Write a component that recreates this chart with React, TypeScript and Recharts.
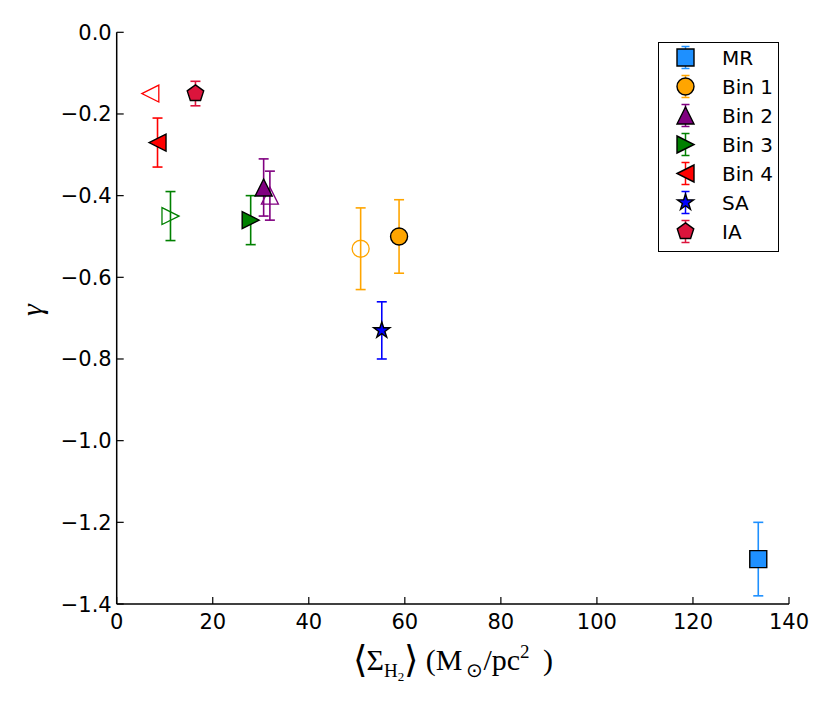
import React from 'react';
import { ScatterChart, Scatter, XAxis, YAxis, ErrorBar, Legend } from 'recharts';

// ---------- data ----------
const xTicks = [0, 20, 40, 60, 80, 100, 120, 140];
const yTicks = [-1.4, -1.2, -1.0, -0.8, -0.6, -0.4, -0.2, 0.0];

const mrData = [{ x: 133.6, y: -1.29, e: [0.09, 0.09] }];
const bin1Data = [{ x: 58.8, y: -0.5, e: [0.09, 0.09] }];
const bin1OpenData = [{ x: 50.8, y: -0.53, e: [0.1, 0.1] }];
const bin2Data = [{ x: 30.6, y: -0.38, e: [0.07, 0.07] }];
const bin2OpenData = [{ x: 31.9, y: -0.4, e: [0.06, 0.06] }];
const bin3Data = [{ x: 27.9, y: -0.46, e: [0.06, 0.06] }];
const bin3OpenData = [{ x: 11.2, y: -0.45, e: [0.06, 0.06] }];
const bin4Data = [{ x: 8.5, y: -0.27, e: [0.06, 0.06] }];
const bin4OpenData = [{ x: 7.0, y: -0.15 }];
const saData = [{ x: 55.2, y: -0.73, e: [0.07, 0.07] }];
const iaData = [{ x: 16.4, y: -0.15, e: [0.03, 0.03] }];

const legendNames = ['MR', 'Bin 1', 'Bin 2', 'Bin 3', 'Bin 4', 'SA', 'IA'];
const legendColors = ['#1E90FF', '#FFA500', '#800080', '#008000', '#FF0000', '#0000FF', '#DC143C'];
const legendKinds = ['square', 'circle', 'tup', 'tright', 'tleft', 'star', 'pentagon'];

// ---------- styling ----------
const FONT = 'DejaVu Sans';
const MATH = 'Liberation Serif';
const W = 814;
const H = 690;
const MS = 8.5; // marker half size
const TICK_FS = 21;

function markerPath(kind: string, cx: number, cy: number, s: number): string {
  const pts: [number, number][] = [];
  if (kind === 'square') {
    pts.push([cx - s, cy - s], [cx + s, cy - s], [cx + s, cy + s], [cx - s, cy + s]);
  } else if (kind === 'tup') {
    pts.push([cx, cy - s], [cx + s, cy + s], [cx - s, cy + s]);
  } else if (kind === 'tright') {
    pts.push([cx + s, cy], [cx - s, cy + s], [cx - s, cy - s]);
  } else if (kind === 'tleft') {
    pts.push([cx - s, cy], [cx + s, cy - s], [cx + s, cy + s]);
  } else if (kind === 'star') {
    const R = s;
    const r = s * 0.381966;
    for (let i = 0; i < 10; i++) {
      const a = (-90 + i * 36) * Math.PI / 180;
      const rr = i % 2 === 0 ? R : r;
      pts.push([cx + rr * Math.cos(a), cy + rr * Math.sin(a)]);
    }
  } else if (kind === 'pentagon') {
    const R = s * 1.02;
    for (let i = 0; i < 5; i++) {
      const a = (-90 + i * 72) * Math.PI / 180;
      pts.push([cx + R * Math.cos(a), cy + R * Math.sin(a)]);
    }
  }
  return 'M' + pts.map((p) => p[0].toFixed(2) + ',' + p[1].toFixed(2)).join('L') + 'Z';
}

function Marker({ kind, cx, cy, color, filled, s }: any) {
  const fill = filled ? color : 'none';
  const stroke = filled ? '#000' : color;
  const sw = filled ? 1.4 : 1.3;
  if (kind === 'circle') {
    return <circle cx={cx} cy={cy} r={s} fill={fill} stroke={stroke} strokeWidth={sw} />;
  }
  return <path d={markerPath(kind, cx, cy, s)} fill={fill} stroke={stroke} strokeWidth={sw} strokeLinejoin="miter" />;
}

const makeShape = (kind: string, color: string, filled: boolean) => (props: any) => (
  <Marker kind={kind} cx={props.cx} cy={props.cy} color={color} filled={filled} s={MS} />
);

const fmt = (v: number) => {
  const s = Math.abs(v) < 1e-9 ? '0.0' : v.toFixed(1);
  return s.replace('-', '\u2212');
};

const BottomTick = (props: any) => {
  const { x, y, payload } = props;
  return (
    <g>
      <line x1={x} y1={y} x2={x} y2={y - 7} stroke="#000" strokeWidth={1.2} />
      <text x={x} y={y + 25} textAnchor="middle" fontSize={TICK_FS} fontFamily={FONT} fill="#000">
        {String(payload.value)}
      </text>
    </g>
  );
};
const TopTick = (props: any) => {
  const { x, y } = props;
  return <line x1={x} y1={y} x2={x} y2={y + 7} stroke="#000" strokeWidth={1.2} />;
};
const LeftTick = (props: any) => {
  const { x, y, payload } = props;
  return (
    <g>
      <line x1={x} y1={y} x2={x + 7} y2={y} stroke="#000" strokeWidth={1.2} />
      <text x={x - 5} y={y + 7.5} textAnchor="end" fontSize={TICK_FS} fontFamily={FONT} fill="#000">
        {fmt(payload.value)}
      </text>
    </g>
  );
};
const RightTick = (props: any) => {
  const { x, y } = props;
  return <line x1={x} y1={y} x2={x - 7} y2={y} stroke="#000" strokeWidth={1.2} />;
};

const XLabel = (props: any) => {
  const vb = props.viewBox || { x: 108.7, y: 596, width: 672.3, height: 60 };
  const cx = vb.x + vb.width / 2;
  const y = vb.y + 66;
  return (
    <text x={cx} y={y} textAnchor="middle" fontFamily={MATH} fontSize={30} fill="#000">
      <tspan fontSize={37} dy={2}>{'\u27E8'}</tspan>
      <tspan dy={-2}>{'\u03A3'}</tspan>
      <tspan fontSize={19} dy={7}>H</tspan>
      <tspan fontSize={13} dy={4}>2</tspan>
      <tspan fontSize={37} dy={-9}>{'\u27E9'}</tspan>
      <tspan dy={-2}>{' (M'}</tspan>
      <tspan fontSize={20} dy={7}>{'\u2009\u2299'}</tspan>
      <tspan dy={-7}>/pc</tspan>
      <tspan fontSize={19} dy={-12}>2</tspan>
      <tspan dy={12}>{' \u2009)'}</tspan>
    </text>
  );
};

const YLabel = (props: any) => {
  const vb = props.viewBox || { x: 0, y: 24.3, width: 108.7, height: 571.7 };
  const cy = vb.y + vb.height / 2 - 8;
  const x = 34;
  return (
    <text x={x} y={cy} transform={`rotate(-90, ${x}, ${cy})`} textAnchor="middle" fontFamily={MATH} fontStyle="italic" fontSize={30} fill="#000">
      {'\u03B3'}
    </text>
  );
};

const LegendBox = () => {
  const rowH = 29;
  return (
    <div style={{ width: 121, height: 210, border: '1.5px solid #000', background: '#fff', boxSizing: 'border-box', position: 'relative' }}>
      <svg width={118} height={207} style={{ position: 'absolute', left: 0, top: 0 }}>
        {legendNames.map((name, i) => {
          const cy = 14.5 + i * rowH;
          const cx = 26.5;
          const c = legendColors[i];
          return (
            <g key={name}>
              <line x1={cx} y1={cy - 11} x2={cx} y2={cy + 11} stroke={c} strokeWidth={1.5} />
              <line x1={cx - 4} y1={cy - 11} x2={cx + 4} y2={cy - 11} stroke={c} strokeWidth={1.5} />
              <line x1={cx - 4} y1={cy + 11} x2={cx + 4} y2={cy + 11} stroke={c} strokeWidth={1.5} />
              <Marker kind={legendKinds[i]} cx={cx} cy={cy} color={c} filled={true} s={MS} />
              <text x={63} y={cy + 7.5} fontSize={20} fontFamily={FONT} fill="#000">{name}</text>
            </g>
          );
        })}
      </svg>
    </div>
  );
};

const ebProps = { direction: 'y' as const, width: 5, strokeWidth: 1.6 };

export default function App() {
  return (
    <div style={{ width: W, height: H, background: '#fff' }}>
      <ScatterChart width={W} height={H} margin={{ top: 24.3, right: 33, bottom: 34, left: 0 }}>
        <XAxis
          xAxisId="b"
          type="number"
          dataKey="x"
          domain={[0, 140]}
          ticks={xTicks}
          interval={0}
          allowDataOverflow
          height={60}
          tickSize={0}
          tickMargin={0}
          tickLine={false}
          axisLine={{ stroke: '#000', strokeWidth: 1.5 }}
          tick={<BottomTick />}
          label={<XLabel />}
        />
        <XAxis
          xAxisId="t"
          orientation="top"
          type="number"
          dataKey="x"
          domain={[0, 140]}
          ticks={xTicks}
          interval={0}
          allowDataOverflow
          height={0}
          tickSize={0}
          tickMargin={0}
          tickLine={false}
          axisLine={{ stroke: '#000', strokeWidth: 1.5 }}
          tick={<TopTick />}
        />
        <YAxis
          yAxisId="l"
          type="number"
          dataKey="y"
          domain={[-1.4, 0]}
          ticks={yTicks}
          interval={0}
          allowDataOverflow
          width={108.7}
          tickSize={0}
          tickMargin={0}
          tickLine={false}
          axisLine={{ stroke: '#000', strokeWidth: 1.5 }}
          tick={<LeftTick />}
          label={<YLabel />}
        />
        <YAxis
          yAxisId="r"
          orientation="right"
          type="number"
          dataKey="y"
          domain={[-1.4, 0]}
          ticks={yTicks}
          interval={0}
          allowDataOverflow
          width={0}
          tickSize={0}
          tickMargin={0}
          tickLine={false}
          axisLine={{ stroke: '#000', strokeWidth: 1.5 }}
          tick={<RightTick />}
        />
        <Legend
          layout="vertical"
          align="center"
          verticalAlign="middle"
          wrapperStyle={{ position: 'absolute', left: 650, top: 34, width: 121, height: 210 }}
          content={() => <LegendBox />}
        />

        <Scatter name="Bin 1 open" xAxisId="b" yAxisId="l" data={bin1OpenData} legendType="none" isAnimationActive={false} shape={makeShape('circle', '#FFA500', false)}>
          <ErrorBar dataKey="e" stroke="#FFA500" {...ebProps} />
        </Scatter>
        <Scatter name="Bin 2 open" xAxisId="b" yAxisId="l" data={bin2OpenData} legendType="none" isAnimationActive={false} shape={makeShape('tup', '#800080', false)}>
          <ErrorBar dataKey="e" stroke="#800080" {...ebProps} />
        </Scatter>
        <Scatter name="Bin 3 open" xAxisId="b" yAxisId="l" data={bin3OpenData} legendType="none" isAnimationActive={false} shape={makeShape('tright', '#008000', false)}>
          <ErrorBar dataKey="e" stroke="#008000" {...ebProps} />
        </Scatter>
        <Scatter name="Bin 4 open" xAxisId="b" yAxisId="l" data={bin4OpenData} legendType="none" isAnimationActive={false} shape={makeShape('tleft', '#FF0000', false)} />

        <Scatter name="MR" xAxisId="b" yAxisId="l" data={mrData} isAnimationActive={false} shape={makeShape('square', '#1E90FF', true)}>
          <ErrorBar dataKey="e" stroke="#1E90FF" {...ebProps} />
        </Scatter>
        <Scatter name="Bin 1" xAxisId="b" yAxisId="l" data={bin1Data} isAnimationActive={false} shape={makeShape('circle', '#FFA500', true)}>
          <ErrorBar dataKey="e" stroke="#FFA500" {...ebProps} />
        </Scatter>
        <Scatter name="Bin 2" xAxisId="b" yAxisId="l" data={bin2Data} isAnimationActive={false} shape={makeShape('tup', '#800080', true)}>
          <ErrorBar dataKey="e" stroke="#800080" {...ebProps} />
        </Scatter>
        <Scatter name="Bin 3" xAxisId="b" yAxisId="l" data={bin3Data} isAnimationActive={false} shape={makeShape('tright', '#008000', true)}>
          <ErrorBar dataKey="e" stroke="#008000" {...ebProps} />
        </Scatter>
        <Scatter name="Bin 4" xAxisId="b" yAxisId="l" data={bin4Data} isAnimationActive={false} shape={makeShape('tleft', '#FF0000', true)}>
          <ErrorBar dataKey="e" stroke="#FF0000" {...ebProps} />
        </Scatter>
        <Scatter name="SA" xAxisId="b" yAxisId="l" data={saData} isAnimationActive={false} shape={makeShape('star', '#0000FF', true)}>
          <ErrorBar dataKey="e" stroke="#0000FF" {...ebProps} />
        </Scatter>
        <Scatter name="IA" xAxisId="b" yAxisId="l" data={iaData} isAnimationActive={false} shape={makeShape('pentagon', '#DC143C', true)}>
          <ErrorBar dataKey="e" stroke="#DC143C" {...ebProps} />
        </Scatter>
      </ScatterChart>
    </div>
  );
}
